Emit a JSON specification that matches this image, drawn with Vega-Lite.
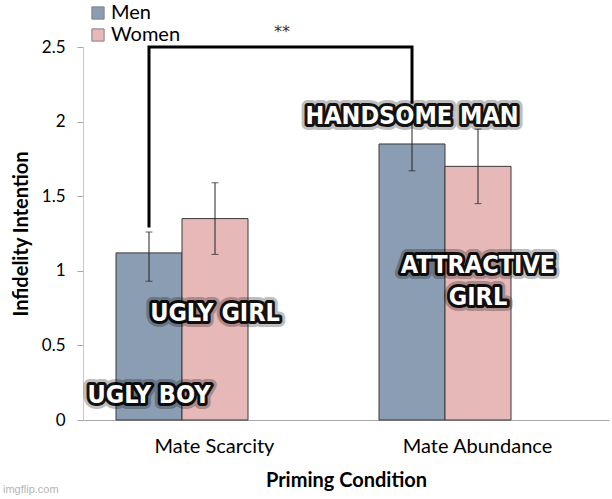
{
  "$schema": "https://vega.github.io/schema/vega-lite/v6.json",
  "autosize": "none",
  "width": 526,
  "height": 373,
  "padding": {"left": 83, "top": 47, "right": 3, "bottom": 79},
  "background": "white",
  "config": {
    "view": {"stroke": null},
    "font": "Lato",
    "axisX": {
      "titleFontSize": 20, "titleFontWeight": "bold", "titleColor": "black", "titlePadding": 14,
      "labelAngle": 0, "labelFontSize": 20, "labelColor": "black", "labelPadding": 16,
      "ticks": false, "domainColor": "#a6a6a6", "domainWidth": 1.2
    },
    "axisY": {
      "titleFontSize": 20, "titleFontWeight": "bold", "titleColor": "black", "titlePadding": 10,
      "labelFontSize": 17, "labelColor": "black", "labelPadding": 12,
      "grid": false, "tickSize": 6, "tickColor": "#a6a6a6", "domainColor": "#c8c8c8"
    }
  },
  "datasets": {
    "bars": [
      {"condition": "Mate Scarcity", "sex": "Men", "mean": 1.12, "lower": 0.93, "upper": 1.26},
      {"condition": "Mate Scarcity", "sex": "Women", "mean": 1.35, "lower": 1.11, "upper": 1.59},
      {"condition": "Mate Abundance", "sex": "Men", "mean": 1.85, "lower": 1.67, "upper": 2.03},
      {"condition": "Mate Abundance", "sex": "Women", "mean": 1.70, "lower": 1.45, "upper": 1.95}
    ],
    "bracket": [
      {"condition": "Mate Scarcity", "sex": "Men", "value": 1.29, "step": 1},
      {"condition": "Mate Scarcity", "sex": "Men", "value": 2.5, "step": 2},
      {"condition": "Mate Abundance", "sex": "Men", "value": 2.5, "step": 3},
      {"condition": "Mate Abundance", "sex": "Men", "value": 2.12, "step": 4}
    ],
    "labels": [
      {"condition": "Mate Abundance", "sex": "Men", "value": 2.04, "label": "HANDSOME MAN"},
      {"condition": "Mate Abundance", "sex": "Women", "value": 1.04, "label": ["ATTRACTIVE", "GIRL"]},
      {"condition": "Mate Scarcity", "sex": "Women", "value": 0.72, "label": "UGLY GIRL"},
      {"condition": "Mate Scarcity", "sex": "Men", "value": 0.17, "label": "UGLY BOY"}
    ],
    "sig": [{"condition": "Mate Scarcity", "sex": "Men", "value": 2.57, "label": "**"}],
    "mark": [{"condition": "Mate Scarcity", "sex": "Men", "value": -0.47, "label": "imgflip.com"}]
  },
  "encoding": {
    "x": {
      "field": "condition", "type": "nominal",
      "sort": ["Mate Scarcity", "Mate Abundance"],
      "scale": {"paddingInner": 0, "paddingOuter": 0},
      "axis": {"title": "Priming Condition"}
    },
    "xOffset": {
      "field": "sex", "type": "nominal", "sort": ["Men", "Women"],
      "scale": {"range": [33, 165], "paddingInner": 0, "paddingOuter": 0}
    }
  },
  "layer": [
    {
      "data": {"name": "bars"},
      "mark": {"type": "bar", "stroke": "#3a3a3a", "strokeWidth": 1},
      "encoding": {
        "y": {
          "field": "mean", "type": "quantitative",
          "scale": {"domain": [0, 2.5]},
          "axis": {"title": "Infidelity Intention", "values": [0, 0.5, 1, 1.5, 2, 2.5], "labelExpr": "datum.value + ''"}
        },
        "color": {
          "field": "sex", "type": "nominal",
          "scale": {"domain": ["Men", "Women"], "range": ["#8b9db3", "#e6b9b8"]},
          "legend": {
            "orient": "none", "legendX": 5, "legendY": -44, "title": null, "padding": 0,
            "symbolType": "square", "symbolSize": 150, "symbolStrokeColor": "#808080",
            "symbolStrokeWidth": 1, "labelFontSize": 20, "labelColor": "black",
            "labelOffset": 3, "rowPadding": 2
          }
        }
      }
    },
    {
      "data": {"name": "bars"},
      "mark": {"type": "rule", "color": "#222", "strokeWidth": 1},
      "encoding": {
        "y": {"field": "lower", "type": "quantitative", "scale": {"domain": [0, 2.5]}, "axis": {"title": "Infidelity Intention", "values": [0, 0.5, 1, 1.5, 2, 2.5], "labelExpr": "datum.value + ''"}},
        "y2": {"field": "upper"}
      }
    },
    {
      "data": {"name": "bars"},
      "mark": {"type": "tick", "color": "#222", "thickness": 1, "size": 7},
      "encoding": {
        "y": {"field": "lower", "type": "quantitative", "scale": {"domain": [0, 2.5]}, "axis": {"title": "Infidelity Intention", "values": [0, 0.5, 1, 1.5, 2, 2.5], "labelExpr": "datum.value + ''"}}
      }
    },
    {
      "data": {"name": "bars"},
      "mark": {"type": "tick", "color": "#222", "thickness": 1, "size": 7},
      "encoding": {
        "y": {"field": "upper", "type": "quantitative", "scale": {"domain": [0, 2.5]}, "axis": {"title": "Infidelity Intention", "values": [0, 0.5, 1, 1.5, 2, 2.5], "labelExpr": "datum.value + ''"}}
      }
    },
    {
      "data": {"name": "bracket"},
      "mark": {"type": "line", "color": "black", "strokeWidth": 3, "strokeJoin": "miter"},
      "encoding": {
        "y": {"field": "value", "type": "quantitative", "scale": {"domain": [0, 2.5]}, "axis": {"title": "Infidelity Intention", "values": [0, 0.5, 1, 1.5, 2, 2.5], "labelExpr": "datum.value + ''"}},
        "order": {"field": "step", "type": "quantitative"}
      }
    },
    {
      "data": {"name": "sig"},
      "mark": {"type": "text", "dx": 133, "fontSize": 16, "color": "#333", "baseline": "alphabetic", "font": "DejaVu Sans"},
      "encoding": {
        "y": {"field": "value", "type": "quantitative", "scale": {"domain": [0, 2.5]}, "axis": {"title": "Infidelity Intention", "values": [0, 0.5, 1, 1.5, 2, 2.5], "labelExpr": "datum.value + ''"}},
        "text": {"field": "label"}
      }
    },
    {
      "data": {"name": "mark"},
      "mark": {"type": "text", "dx": -146, "align": "left", "fontSize": 11, "color": "#b5b5b5", "baseline": "middle", "font": "Liberation Sans"},
      "encoding": {
        "y": {"field": "value", "type": "quantitative", "scale": {"domain": [0, 2.5]}, "axis": {"title": "Infidelity Intention", "values": [0, 0.5, 1, 1.5, 2, 2.5], "labelExpr": "datum.value + ''"}},
        "text": {"field": "label"}
      }
    },
    {
      "data": {"name": "labels"},
      "mark": {"type": "text", "font": "DejaVu Sans Condensed, sans-serif", "fontWeight": "bold", "fontSize": 25, "lineHeight": 32, "baseline": "middle", "fill": "black", "stroke": "black", "strokeWidth": 12, "strokeJoin": "round", "opacity": 0.25},
      "encoding": {
        "y": {"field": "value", "type": "quantitative", "scale": {"domain": [0, 2.5]}, "axis": {"title": "Infidelity Intention", "values": [0, 0.5, 1, 1.5, 2, 2.5], "labelExpr": "datum.value + ''"}},
        "text": {"field": "label"}
      }
    },
    {
      "data": {"name": "labels"},
      "mark": {"type": "text", "font": "DejaVu Sans Condensed, sans-serif", "fontWeight": "bold", "fontSize": 25, "lineHeight": 32, "baseline": "middle", "fill": "black", "stroke": "black", "strokeWidth": 6, "strokeJoin": "round", "opacity": 0.9},
      "encoding": {
        "y": {"field": "value", "type": "quantitative", "scale": {"domain": [0, 2.5]}, "axis": {"title": "Infidelity Intention", "values": [0, 0.5, 1, 1.5, 2, 2.5], "labelExpr": "datum.value + ''"}},
        "text": {"field": "label"}
      }
    },
    {
      "data": {"name": "labels"},
      "mark": {"type": "text", "font": "DejaVu Sans Condensed, sans-serif", "fontWeight": "bold", "fontSize": 25, "lineHeight": 32, "baseline": "middle", "fill": "white"},
      "encoding": {
        "y": {"field": "value", "type": "quantitative", "scale": {"domain": [0, 2.5]}, "axis": {"title": "Infidelity Intention", "values": [0, 0.5, 1, 1.5, 2, 2.5], "labelExpr": "datum.value + ''"}},
        "text": {"field": "label"}
      }
    }
  ]
}
